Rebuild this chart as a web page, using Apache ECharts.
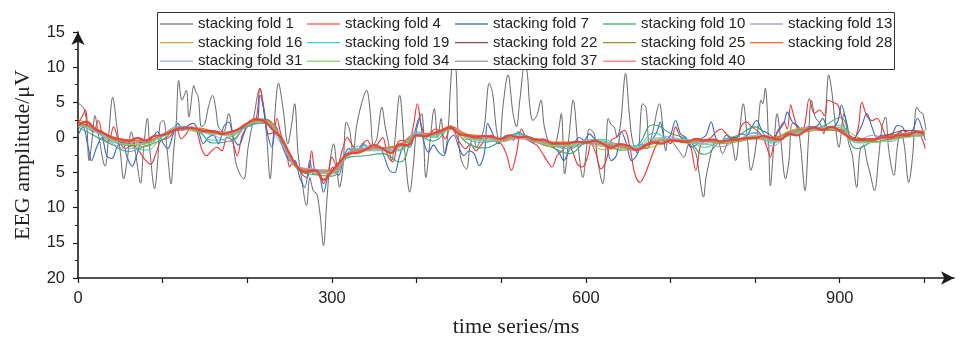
<!DOCTYPE html>
<html><head><meta charset="utf-8">
<script src="https://cdn.jsdelivr.net/npm/echarts@6/dist/echarts.min.js"></script>
<style>html,body{margin:0;padding:0;background:#fff}#c{width:963px;height:341px}</style>
</head><body><div id="c"></div>
<script>
// ---------- data ----------
const foldNames = ['stacking fold 1','stacking fold 4','stacking fold 7','stacking fold 10','stacking fold 13','stacking fold 16','stacking fold 19','stacking fold 22','stacking fold 25','stacking fold 28','stacking fold 31','stacking fold 34','stacking fold 37','stacking fold 40'];
const xTickValues = [0,100,200,300,400,500,600,700,800,900,1000];
const xLabelValues = [0,300,600,900];

// [time ms, amplitude µV]
const fold1 = [[0,4.9],[7,4.1],[10.5,1.5],[13,-3.3],[17,0],[20,3.1],[24,0.5],[32,-4.1],[36,0],[41,5.7],[46,1.5],[50,-2.1],[54,-5.9],[58,-3.3],[63,0.8],[68,-2.3],[74,-6.5],[77,-2.3],[82,2.7],[85,-1.9],[90.5,-7.3],[94.5,-2.8],[97,2.0],[101,2.4],[105,-1.4],[110,-6.6],[113,-1.9],[116,2.0],[119,8.1],[123,5.3],[128,6.7],[131,2.9],[137,7.4],[139,6.5],[142,5.8],[146,1.5],[150,2.0],[154,4.3],[159,6.0],[163,3.9],[166,1.5],[172,0.8],[178,3.4],[182,1.0],[186,-3.3],[192,-5.4],[196,-5.9],[201,-1.4],[207,2.4],[215,7.0],[219,4.3],[223,0],[227,-5.9],[231,0.5],[237,7.7],[242.5,3.9],[248,-0.9],[252,1.5],[256,4.8],[260,-2.3],[264,-5.7],[270,-9.7],[274,-5.7],[278,-7.6],[282,-8],[286,-10.9],[290,-15.4],[294,-9],[298,-3.3],[302,-0.9],[305.5,-3.8],[309,-7.1],[313,-4.2],[317,2.2],[321,1],[325,-2.3],[329,1.5],[335,4.8],[341,6.7],[345,3.9],[349,-1.1],[353,-0.2],[359,4.3],[363,1.5],[367,-0.9],[370.5,-3.3],[374,-0.9],[380,6.0],[386,-1.9],[392,-7.8],[396,-4.2],[400,1.0],[406,3.4],[411,-5.7],[416,-0.5],[421,4.1],[425,0],[429,2.7],[433,-2.3],[437,0.5],[441,9],[444,11.5],[447,9],[449,0.5],[453,-3.3],[459,-4.5],[463,-1.4],[467,0],[471,-1.4],[475,-0.5],[480,1.5],[486,7.7],[490,6.2],[494,1.5],[498,-0.9],[502,4.3],[508,8.9],[514,3.4],[518,1.5],[522,5.3],[528,10.5],[531,9],[533.5,4.8],[537.5,2.4],[542,3.1],[547,5.3],[551,1.5],[557,-0.9],[562,-1.4],[567,0.5],[571,3.4],[575,-5.2],[580,0],[585,5.3],[591,-1.4],[596.5,-5.7],[601,-1.4],[604,1.2],[610,0.5],[614,-3.3],[620,-6.6],[624,-0.9],[626.5,2.7],[630,1.8],[633.5,1.5],[637,0],[641,1.9],[647,9.1],[651,3.9],[655,-0.4],[661,-2.3],[667,4.8],[671,4.3],[675,-0.9],[679,0.8],[687,4.8],[691,1.5],[694.5,-1.9],[698,0],[704,-0.9],[710,-1.9],[716,-2.8],[722,-0.9],[730,-2.3],[734,-5.2],[739,-8.5],[742,-5.7],[746,-3.3],[750,-1.4],[755.5,-0.4],[761.5,-2.3],[767,-0.9],[771,-0.2],[777,-3.3],[781,0],[786,4.8],[791,-0.4],[795,-4.7],[799,-2.8],[803,0.8],[807,5.3],[809,4.8],[812,7.0],[816,-0.9],[818,-6.9],[822,-1.4],[826,3.4],[830,0],[836,-5.9],[840,-3.3],[844,2.0],[850,1.5],[853.5,-0.9],[859,-7.6],[863,-0.4],[866.5,5.3],[871,2.9],[877,1.9],[881,0.5],[887,8.9],[891,6.2],[895,1.5],[899,-1.4],[905,3.4],[910.6,-0.9],[914.5,-2.3],[920,-7.1],[924,-1.9],[928,-1.1],[932,-3.3],[936,-5.2],[941,-7.6],[946,-2.8],[950,1.5],[954,2.9],[958,-1.9],[964,-5.4],[968,-1.4],[972,0.8],[976,-0.9],[981.5,-6.4],[986,-2.8],[991,4.3],[995,3.6],[998,3.4],[1002,1.0]];

const fold4 = [[0,2.0],[5,3.0],[9,3.9],[12,1.5],[18,0.8],[24,2.4],[30,-0.2],[36,-0.7],[42,1.5],[48,-0.4],[56,-1.6],[64,-1.1],[72,-1.9],[80,-3.3],[86,-3.8],[92,-2.3],[98,-0.4],[104,-0.2],[110,0.3],[116,1.5],[122,-0.2],[128,0.5],[134,1.5],[140,1.0],[146,-1.6],[152,-2.6],[158,-1.9],[164,-1.4],[170,-1.9],[176,0],[182,-0.4],[188,-2.6],[194,0.3],[200,1.5],[205,1.7],[211,2.9],[215,7.0],[220,3.9],[225,0.5],[231,0.8],[235,2.7],[240,0.3],[246,-1.4],[250,-4.2],[255,-3.3],[260,-4.2],[266,-5.4],[271,-5.7],[276,-1.9],[280,-4.7],[286,-5.2],[290,-6.6],[296,-4.7],[300,-2.8],[306,-4.2],[312,-1.9],[318,0],[324,-1.1],[330,-1.9],[336,-0.9],[342,-0.4],[348,-1.6],[354,-0.9],[360,0],[366,-2.6],[372,-3.5],[378,-0.7],[384,-0.4],[390,-0.9],[396,1.5],[401,4.8],[406,1.5],[412,0],[418,0.8],[422,1.2],[428,0.8],[434,-0.2],[440,1.7],[446,0.5],[452,-0.9],[458,-1.6],[464,-0.9],[470,-1.9],[476,-1.1],[482,-0.2],[488,0.3],[494,-0.4],[500,-0.9],[506,-2.3],[512,-4.7],[518,-2.3],[524,1.2],[530,-0.2],[536,-0.7],[542,-1.1],[548,-2.1],[554,-3.3],[560,-4.2],[566,-2.6],[572,-1.9],[578,-1.1],[584,-1.9],[590,-3.8],[596,-4.2],[602,-2.8],[606,-0.9],[612,-2.3],[618,-4.5],[624,-3.3],[630,-0.4],[636,0],[642,0.8],[646,1.0],[652,-1.4],[658,-5.2],[664,-6.4],[670,-5.2],[676,-3.3],[682,-1.4],[688,-0.4],[694,-0.4],[700,-0.9],[706,1.5],[712,0],[718,-0.4],[724,-1.4],[730,-4.7],[736,-0.9],[742,-0.4],[748,0],[754,0.8],[760,1.2],[766,0.5],[772,0],[778,0],[784,1.7],[790,2.2],[796,1.5],[802,1.0],[808,0.3],[814,-1.4],[818,-2.8],[822,-0.9],[826,0.8],[830,1.5],[834,2.2],[838,1.2],[842,4.6],[846,2.9],[852,1.0],[858,1.5],[864,5.5],[870,3.4],[876,3.9],[882,3.1],[886,5.3],[892,5.0],[898,4.6],[904,2.0],[910,0],[916,-0.4],[922,1.5],[926,5.0],[932,3.1],[938,2.4],[944,2.7],[950,1.5],[956,0],[962,0.3],[968,0.5],[974,1.0],[980,0.8],[986,0.5],[992,0.8],[998,-0.4],[1001,-1.6]];

const fold7 = [[0,0.3],[6,1.5],[12,-1.4],[16,-3.3],[22,-1.4],[28,0],[34,-2.6],[40,-3.0],[46,-1.4],[52,-0.4],[58,-2.8],[64,-4.1],[70,-2.3],[76,-0.4],[82,-0.7],[88,0],[94,0.8],[100,-0.7],[106,-1.6],[112,0.3],[118,2.0],[124,1.0],[130,1.7],[136,2.0],[142,1.0],[148,-0.9],[154,0],[160,0.3],[166,-0.9],[172,1.5],[178,2.2],[184,-0.2],[190,-1.1],[196,0.5],[202,2.2],[207,2.0],[212,2.2],[215,6.0],[219,4.3],[224,0.5],[229,-1.4],[234,1.5],[239,-0.4],[245,-2.3],[250,-3.3],[256,-3.3],[262,-5.7],[268,-7.1],[274,-3.3],[278,-5.2],[284,-5.2],[290,-7.8],[296,-5.2],[302,-4.2],[308,-5.4],[314,-2.8],[320,-1.6],[326,-1.9],[332,-1.9],[338,-0.9],[344,-1.9],[350,-1.4],[356,-1.4],[362,-2.8],[368,-4.7],[374,-5.0],[380,-2.6],[386,-1.1],[392,-1.4],[398,0.8],[403,2.8],[408,-0.4],[414,-2.1],[420,-1.1],[426,-2.1],[432,-2.6],[438,-0.4],[444,0.3],[450,-1.4],[456,-2.6],[462,-1.9],[468,-2.3],[474,-4.0],[480,-2.3],[484,2.0],[490,0.5],[496,-0.9],[502,0],[508,0.3],[514,-0.4],[520,0.8],[526,0.3],[532,-0.2],[538,-0.7],[544,-0.4],[550,-1.1],[556,-0.7],[562,-1.4],[568,-2.1],[574,-3.3],[580,-1.9],[586,-0.9],[592,0],[598,-0.4],[604,0.5],[612,-0.4],[618,-0.7],[624,-1.1],[630,-3.3],[636,-2.6],[642,0.8],[648,-0.9],[654,-3.3],[660,-2.6],[666,-0.9],[672,-1.6],[678,-0.4],[684,0.8],[688,2.2],[694,-0.4],[700,0.3],[706,2.4],[712,0.5],[718,0],[724,-1.4],[730,-1.1],[736,-0.2],[742,0.3],[748,2.2],[754,-0.2],[760,-0.7],[766,0.3],[772,-0.2],[778,0],[784,0.5],[790,0.3],[796,1.5],[802,2.4],[808,1.0],[812,0.8],[816,0.5],[822,0],[828,1.0],[834,2.0],[838,3.6],[844,2.2],[850,1.7],[856,0.8],[862,1.5],[868,1.5],[874,1.7],[880,2.7],[886,1.5],[892,1.5],[898,2.4],[902,4.6],[908,2.2],[914,-0.4],[920,0.3],[926,1.7],[932,3.4],[938,1.5],[944,0],[950,0.3],[956,0.3],[962,0.5],[968,1.7],[974,1.5],[980,0.3],[986,1.0],[992,2.7],[998,1.0],[1001,-0.4]];

const time20 = [0,20,40,60,80,100,120,140,160,180,200,220,240,260,280,300,320,340,360,380,400,420,440,460,480,500,520,540,560,580,600,620,640,660,680,700,720,740,760,780,800,820,840,860,880,900,920,940,960,980,1000];
const fold10 = [1.5,0.2,-1.0,-2.0,-1.2,-0.3,1.2,1.0,-0.8,-0.5,1.8,2.6,-0.5,-4.6,-5.3,-5.5,-2.8,-2.6,-2.3,-3.5,0.4,-0.5,1.2,-0.8,-1.5,-0.5,0.6,-0.6,-1.4,-2.3,-0.8,-0.5,-1.8,-1.2,1.8,0.6,-0.3,-2.4,-0.5,0.3,1.5,-0.4,0.8,1.2,1.6,2.8,-1.6,-0.5,0.2,0.6,0.8];
const fold13 = [1.8,1.0,-0.8,-1.6,-0.8,0.2,1.0,1.1,0.3,-0.6,1.6,2.0,-0.9,-4.5,-5.0,-5.2,-2.6,-1.9,-1.9,-1.4,0.2,0.2,1.1,0.0,-0.5,-0.6,-0.2,-0.7,-1.2,-1.6,-0.9,-1.3,-1.4,-1.9,-0.4,0.1,-0.8,-0.9,-1.3,-0.3,0.6,-1.2,0.6,1.4,1.4,1.2,-0.3,0.3,-0.6,0.6,0.7];
const fold16 = [2.6,1.4,-0.2,-0.9,-1.3,0.5,1.4,0.8,0.6,0.2,1.8,2.4,-0.3,-4.4,-4.9,-5.1,-2.5,-1.8,-1.5,-1.3,0.5,0.3,1.2,-0.3,-0.3,-0.5,0.1,-0.6,-1.3,-1.0,-0.8,-1.7,-1.6,-1.6,-1.3,-0.4,-0.8,-0.6,-0.9,-0.5,0.0,-0.3,0.9,1.3,1.2,1.4,0.1,-0.6,-0.2,0.5,1.0];
const fold19 = [1.8,0.8,-0.6,-1.2,-1.8,0.1,1.6,0.9,-0.4,0.1,1.5,2.0,-0.4,-4.2,-4.6,-5.0,-2.0,-1.2,-1.8,-1.9,0.8,0.0,1.6,-0.2,-0.7,-0.1,0.5,-0.2,-1.0,-1.6,-0.4,-0.3,-1.1,-1.2,0.6,-0.2,-0.3,-1.4,-0.6,-0.4,0.7,-0.8,0.3,1.0,1.3,1.7,-0.7,-0.7,-0.3,0.2,0.4];
const fold22 = [2.1,1.3,-0.2,-0.8,-0.6,0.4,1.1,1.3,0.7,0.6,1.9,2.2,-0.3,-4.3,-4.8,-4.9,-2.4,-1.6,-1.5,-1.2,0.4,0.5,1.3,0.2,0.1,-0.3,0.1,-0.4,-0.9,-0.9,-0.6,-0.9,-1.2,-1.6,-0.7,-0.4,-0.5,-0.5,-0.5,-0.2,0.1,-0.2,0.6,1.0,1.2,1.1,-0.1,-0.2,0.5,1.0,0.8];
const fold25 = [2.3,1.0,-0.4,-1.1,-0.8,0.2,1.2,1.0,0.5,0.4,1.7,2.1,-0.3,-4.4,-4.9,-5.0,-2.5,-1.8,-1.6,-1.7,0.4,0.3,1.2,0.1,-0.2,-0.4,0.0,-0.5,-1.0,-1.3,-0.8,-1.1,-1.3,-1.7,-0.9,-0.6,-0.7,-0.6,-0.8,-0.6,-0.2,-0.5,0.3,0.8,1.0,0.9,-0.5,-0.6,-0.2,0.1,0.3];
const fold28 = [1.9,1.3,0.1,-0.4,-0.5,0.4,1.3,1.3,0.9,0.7,2.0,2.4,0.0,-4.2,-4.6,-4.7,-2.2,-1.6,-1.5,-1.0,0.5,0.6,1.5,0.4,0.2,-0.2,0.1,-0.2,-0.7,-0.7,-0.6,-0.8,-0.9,-1.6,-0.6,-0.3,-0.5,-0.3,-0.5,-0.2,0.0,0.0,0.6,1.1,1.2,1.0,-0.3,-0.2,0.2,0.5,0.8];
const fold31 = [2.0,0.9,-0.3,-1.0,-0.9,0.5,1.5,1.1,0.4,0.5,1.8,2.2,-0.2,-4.1,-4.5,-4.9,-2.1,-1.5,-1.7,-1.4,0.6,0.2,1.4,0.1,-0.3,-0.1,0.3,-0.4,-0.8,-1.2,-0.5,-0.7,-1.0,-1.4,-0.1,-0.2,-0.4,-0.8,-0.4,-0.3,0.3,-0.4,0.5,1.1,1.3,1.3,-0.5,-0.4,0.0,0.3,0.4];
const fold34 = [1.6,1.1,-0.3,-1.0,-0.9,0.2,1.3,1.0,0.5,0.3,1.8,2.2,-0.4,-4.5,-5.0,-5.0,-2.5,-1.9,-1.8,-1.8,0.4,0.2,1.2,-0.1,-0.4,-0.4,0.2,-0.5,-1.1,-1.2,-0.7,-0.8,-1.2,-1.5,-0.2,-0.3,-0.6,-1.0,-0.7,-0.5,0.2,-0.6,0.2,0.9,1.1,1.4,-0.8,-0.7,-0.4,0.0,0.2];
const fold37 = [1.8,1.2,-0.1,-0.6,-0.6,0.3,1.2,1.2,0.8,0.6,1.9,2.3,-0.2,-4.3,-4.8,-4.9,-2.4,-1.7,-1.6,-1.2,0.4,0.5,1.3,0.2,0.0,-0.3,0.0,-0.4,-0.9,-0.9,-0.7,-1.0,-1.1,-1.7,-0.6,-0.4,-0.6,-0.5,-0.6,-0.3,0.0,-0.2,0.5,1.0,1.2,1.0,-0.4,-0.3,0.1,0.4,0.6];

const time10 = [0,10,20,30,40,50,60,70,80,90,100,110,120,130,140,150,160,170,180,190,200,210,220,230,240,250,260,270,280,290,300,310,320,330,340,350,360,370,380,390,400,410,420,430,440,450,460,470,480,490,500,510,520,530,540,550,560,570,580,590,600,610,620,630,640,650,660,670,680,690,700,710,720,730,740,750,760,770,780,790,800,810,820,830,840,850,860,870,880,890,900,910,920,930,940,950,960,970,980,990,1000];
const fold40 = [1.7,2.2,1.2,0.6,0.0,-0.3,-0.5,-0.1,-0.4,0.2,0.35,0.8,1.3,1.4,1.2,0.9,0.9,0.5,0.8,1.2,2.0,2.6,2.3,1.1,-0.1,-2.3,-4.3,-4.9,-4.7,-6.0,-4.8,-3.4,-2.3,-2.2,-1.7,-1.1,-1.6,-2.2,-1.0,-1.1,0.3,0.2,0.6,1.0,1.4,0.5,0.3,0.0,0.2,0.1,-0.2,0.3,0.0,0.1,-0.3,-0.3,-0.8,-0.9,-0.8,-0.6,-0.7,-0.5,-0.9,-1.5,-1.0,-1.2,-1.8,-1.1,-0.7,-0.9,-0.4,-0.5,-0.6,-0.2,-0.4,-0.3,-0.6,-0.4,-0.3,-0.1,-0.1,0.2,-0.1,-0.3,0.5,0.3,1.0,1.4,1.1,1.5,0.9,0.1,-0.4,-0.3,-0.3,0.0,0.0,0.3,0.3,0.8,0.5];

// ---------- styling ----------
const lineColors = ['#666666','#ee3535','#3a67c2','#36a86a','#ad93da','#d99e1e','#27c3c8','#8b3b3b','#8c8c1c','#ff6a1a','#8db7e6','#8fcf78','#a3a3a3','#e8463c'];
const legendColors = ['#8a8a8a','#ff6f6f','#4a78cc','#4cc08a','#b9a2e0','#dea22c','#35cfd2','#93494a','#949434','#ff6a2a','#9cc3ec','#9bd88b','#a9a9a9','#ff8a8a'];
const widths = [1,1.1,1.1,1.1,1,1,1,1,1,1.6,1,1,1,2.2];

const zip = (t, v) => t.map((x, i) => [x, v[i]]);
const seriesData = [fold1, fold4, fold7,
  zip(time20, fold10), zip(time20, fold13), zip(time20, fold16), zip(time20, fold19),
  zip(time20, fold22), zip(time20, fold25), zip(time20, fold28), zip(time20, fold31),
  zip(time20, fold34), zip(time20, fold37), zip(time10, fold40)];

const series = foldNames.map((n, i) => ({
  name: n, type: 'line', data: seriesData[i], symbol: 'none', showSymbol: false,
  smooth: i < 3 ? 0.35 : 0.5,
  color: lineColors[i],
  lineStyle: { width: widths[i], color: lineColors[i] },
  z: 2 + i, animation: false
}));

const cols = [[0,5,10],[1,6,11],[2,7,12],[3,8,13],[4,9]];
const colLeft = [160,307,455,603,750];
const legends = cols.map((c, k) => ({
  id: 'lg' + k,
  left: colLeft[k], top: 16, orient: 'vertical', padding: 0,
  icon: 'rect', itemWidth: 33, itemHeight: 1.4, itemGap: 2.6, selectedMode: false, z: 120,
  textStyle: { fontFamily: 'Liberation Sans', fontSize: 15, color: '#222', lineHeight: 16 },
  data: c.map(i => ({ name: foldNames[i], itemStyle: { color: legendColors[i], borderWidth: 0 } }))
}));

const axisFont = { fontFamily: 'Liberation Sans', fontSize: 16.5, color: '#222' };
const option = {
  backgroundColor: '#fff',
  animation: false,
  grid: { left: 78, top: 32, width: 876, height: 246, outerBoundsMode: 'none', containLabel: false },
  legend: legends,
  graphic: [{ type: 'rect', z: 100, shape: { x: 157.5, y: 12.5, width: 737, height: 57 },
    style: { fill: '#fff', stroke: '#333', lineWidth: 1 } }],
  xAxis: {
    type: 'value', min: 0, max: 1035, interval: 100,
    name: 'time series/ms', nameLocation: 'middle', nameGap: 38,
    nameTextStyle: { fontFamily: 'Liberation Serif', fontSize: 22, color: '#222' },
    axisLine: { show: true, onZero: false, symbol: ['none', 'arrow'], symbolSize: [10, 13], lineStyle: { color: '#1a1a1a', width: 1.6 } },
    axisTick: { show: true, length: 5, customValues: xTickValues, lineStyle: { color: '#1a1a1a', width: 1.2 } },
    axisLabel: { ...axisFont, margin: 12, customValues: xLabelValues },
    splitLine: { show: false }
  },
  yAxis: {
    type: 'value', min: -20, max: 15, interval: 5,
    name: 'EEG amplitude/μV', nameLocation: 'middle', nameGap: 44, nameRotate: 90,
    nameTextStyle: { fontFamily: 'Liberation Serif', fontSize: 22, color: '#222' },
    axisLine: { show: true, onZero: false, symbol: ['none', 'arrow'], symbolSize: [10, 13], lineStyle: { color: '#1a1a1a', width: 1.6 } },
    axisTick: { show: true, length: 5, lineStyle: { color: '#1a1a1a', width: 1.2 } },
    minorTick: { show: true, splitNumber: 2, length: 3, lineStyle: { color: '#1a1a1a', width: 1 } },
    axisLabel: { ...axisFont, margin: 13, formatter: v => String(Math.abs(v)) },
    splitLine: { show: false }, minorSplitLine: { show: false }
  },
  series: series
};
const chart = echarts.init(document.getElementById('c'), null, { renderer: 'canvas' });
chart.setOption(option);
</script></body></html>
